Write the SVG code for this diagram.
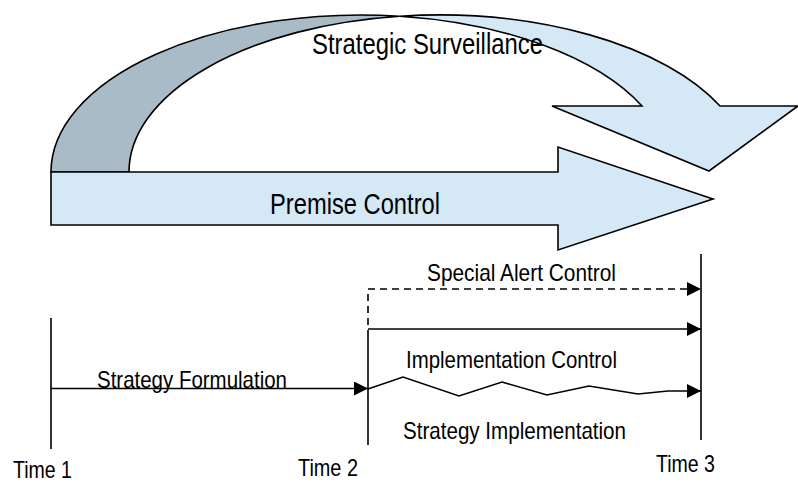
<svg xmlns="http://www.w3.org/2000/svg" width="798" height="483" viewBox="0 0 798 483">
<defs>
<style>
.lbl{font-family:"Liberation Sans Narrow","Liberation Sans",Arial,sans-serif;fill:#000;}
.big{font-size:29px;}
.sm{font-size:24px;}
.shape{stroke:#000;stroke-width:1.6;stroke-linejoin:miter;}
.ln{stroke:#000;stroke-width:1.6;fill:none;}
</style>
<marker id="ah" viewBox="0 0 14 14" refX="14" refY="7" markerWidth="14" markerHeight="14" markerUnits="userSpaceOnUse" orient="auto">
<path d="M0,0 L14,7 L0,14 Z" fill="#000"/>
</marker>
</defs>
<rect width="798" height="483" fill="#fff"/>
<g id="strategic-surveillance">
<path class="shape" fill="#aabbc8" d="M51,172 A309.8,157 0 0 1 399.8,16.25 A309.8,157 0 0 0 129,172 Z"/>
<path class="shape" fill="#d4e8f6" d="M399.8,16.25 A309.8,157 0 0 1 720,106 L798,106 L709,171 L552,106 L642,106 A309.8,157 0 0 0 399.8,16.25 Z"/>
<text class="lbl big" x="312" y="54" textLength="231" lengthAdjust="spacingAndGlyphs">Strategic Surveillance</text>
</g>
<g id="premise-control">
<path class="shape" fill="#d4e8f6" stroke-width="2" d="M51,172 L558,172 L558,147 L713,199 L558,250 L558,225 L51,225 Z"/>
<text class="lbl big" x="270" y="214" textLength="170" lengthAdjust="spacingAndGlyphs">Premise Control</text>
</g>
<g id="timelines">
<line class="ln" x1="51" y1="318" x2="51" y2="449"/>
<line class="ln" x1="368" y1="337" x2="368" y2="445"/>
<line class="ln" x1="701" y1="254" x2="701" y2="440"/>
</g>
<g id="connectors">
<path class="ln" stroke-dasharray="7,5" d="M368,337 L368,289 L701,289" marker-end="url(#ah)"/>
<line class="ln" x1="368" y1="329" x2="701" y2="329" marker-end="url(#ah)"/>
<line class="ln" x1="51" y1="388.5" x2="368" y2="388.5" marker-end="url(#ah)"/>
<polyline class="ln" points="368,389 403,377 459,396 502,382 547,395 589,386 638,394 668,391 701,391" marker-end="url(#ah)"/>
</g>
<g id="labels">
<text class="lbl sm" x="427" y="281" textLength="189" lengthAdjust="spacingAndGlyphs">Special Alert Control</text>
<text class="lbl sm" x="406" y="368" textLength="211" lengthAdjust="spacingAndGlyphs">Implementation Control</text>
<text class="lbl sm" x="97" y="388" textLength="190" lengthAdjust="spacingAndGlyphs">Strategy Formulation</text>
<text class="lbl sm" x="403" y="439" textLength="223" lengthAdjust="spacingAndGlyphs">Strategy Implementation</text>
<text class="lbl sm" x="13" y="478" textLength="59" lengthAdjust="spacingAndGlyphs">Time 1</text>
<text class="lbl sm" x="298" y="476" textLength="60" lengthAdjust="spacingAndGlyphs">Time 2</text>
<text class="lbl sm" x="656" y="472" textLength="59" lengthAdjust="spacingAndGlyphs">Time 3</text>
</g>
</svg>
